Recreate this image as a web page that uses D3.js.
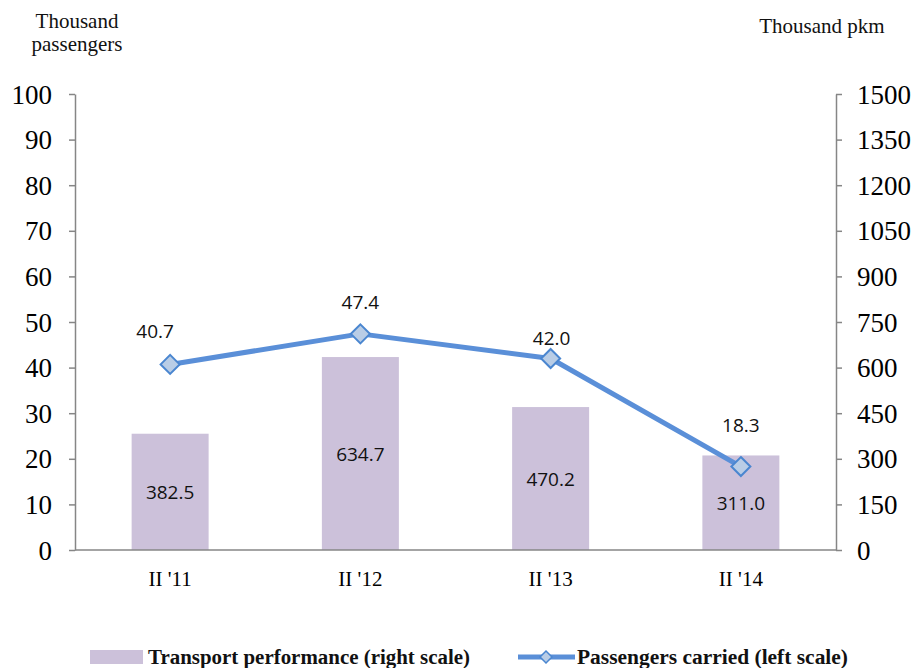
<!DOCTYPE html>
<html><head><meta charset="utf-8">
<script src="https://cdn.jsdelivr.net/npm/d3@7"></script>
<style>body{margin:0;background:#fff}svg{display:block}</style>
</head><body>
<svg id="chart" width="917" height="668"></svg>
<script>
const categories = ["II '11", "II '12", "II '13", "II '14"];
const transportPerformance = [382.5, 634.7, 470.2, 311.0];
const passengersCarried = [40.7, 47.4, 42.0, 18.3];
const leftTicks = [0,10,20,30,40,50,60,70,80,90,100];
const rightTicks = [0,150,300,450,600,750,900,1050,1200,1350,1500];

const svg = d3.select("#chart");
const M = {left:75, right:836, top:94, bottom:550};
const xc = d3.scaleBand().domain(categories).range([M.left, M.right]);
const yL = d3.scaleLinear().domain([0,100]).range([M.bottom, M.top]);
const yR = d3.scaleLinear().domain([0,1500]).range([M.bottom, M.top]);
const axisColor = "#868686";
const serif = "'Liberation Serif','Times New Roman',serif";
const sans = "'Open Sans','DejaVu Sans',sans-serif";
const px = (i)=> xc(categories[i]) + xc.bandwidth()/2;

// bars
svg.append("g").selectAll("rect").data(transportPerformance).join("rect")
  .attr("x", (d,i)=> px(i) - 38.5)
  .attr("width", 77)
  .attr("y", d=>yR(d)).attr("height", d=>M.bottom - yR(d))
  .attr("fill", "#ccc1da");

// axes
const gL = svg.append("g").attr("transform",`translate(${M.left},0)`)
  .call(d3.axisLeft(yL).tickValues(leftTicks).tickSize(6).tickPadding(17).tickSizeOuter(0).tickFormat(d3.format("d")));
const gR = svg.append("g").attr("transform",`translate(${M.right},0)`)
  .call(d3.axisRight(yR).tickValues(rightTicks).tickSize(6).tickPadding(15).tickSizeOuter(0).tickFormat(d3.format("d")));
const gX = svg.append("g").attr("transform",`translate(0,${M.bottom})`)
  .call(d3.axisBottom(xc).tickSize(0).tickPadding(21).tickSizeOuter(0));
[gL,gR,gX].forEach(g=>{
  g.selectAll("path,line").attr("stroke", axisColor).attr("stroke-width",1.5);
  g.selectAll("text").attr("fill","#000").style("font-family", serif);
});
gL.selectAll("text").style("font-size","27px").attr("dy","0.34em");
gR.selectAll("text").style("font-size","27px").attr("dy","0.34em");
gX.selectAll("text").style("font-size","21px").attr("dy","0.71em");
gX.select("path").attr("d", `M${M.left},0H${M.right}`);

// bar labels
svg.append("g").selectAll("text").data(transportPerformance).join("text")
  .attr("x",(d,i)=> px(i))
  .attr("y", d=> (yR(d)+M.bottom)/2 + 7)
  .attr("text-anchor","middle").style("font-family",sans).style("font-size","19px").attr("fill","#111")
  .text(d=>d.toFixed(1));

// line
const line = d3.line().x((d,i)=>px(i)).y(d=>yL(d));
svg.append("path").datum(passengersCarried).attr("d", line)
  .attr("fill","none").attr("stroke","#5a8fd8").attr("stroke-width",5).attr("stroke-linejoin","round");
const diamond = d3.symbol().type(d3.symbolDiamond2).size(230);
svg.append("g").selectAll("path").data(passengersCarried).join("path")
  .attr("transform",(d,i)=>`translate(${px(i)},${yL(d)})`)
  .attr("d", diamond).attr("fill","#b9cde6").attr("stroke","#4a86d0").attr("stroke-width",2);
// line labels
const lblOff = [[-15,-26],[0,-25],[1,-13],[0,-35]];
svg.append("g").selectAll("text").data(passengersCarried).join("text")
  .attr("x",(d,i)=>px(i)+lblOff[i][0]).attr("y",(d,i)=>yL(d)+lblOff[i][1])
  .attr("text-anchor","middle").style("font-family",sans).style("font-size","19px").attr("fill","#111")
  .text(d=>d.toFixed(1));

// axis titles
const tt = svg.append("g").style("font-family",serif).style("font-size","21px").attr("fill","#111");
tt.append("text").attr("x",77).attr("y",28).attr("text-anchor","middle").text("Thousand");
tt.append("text").attr("x",77).attr("y",51).attr("text-anchor","middle").text("passengers");
tt.append("text").attr("x",822).attr("y",33).attr("text-anchor","middle").text("Thousand pkm");

// legend
const lg = svg.append("g").style("font-family",serif).style("font-size","20px").style("font-weight","bold").attr("fill","#111");
lg.append("rect").attr("x",90).attr("y",650).attr("width",53).attr("height",14).attr("fill","#ccc1da");
lg.append("text").attr("x",148).attr("y",664).attr("textLength",322).attr("lengthAdjust","spacingAndGlyphs").text("Transport performance (right scale)");
lg.append("line").attr("x1",518).attr("x2",575).attr("y1",657).attr("y2",657).attr("stroke","#5a8fd8").attr("stroke-width",5);
lg.append("path").attr("transform","translate(546,657)").attr("d", d3.symbol().type(d3.symbolDiamond2).size(90)).attr("fill","#b9cde6").attr("stroke","#4a86d0").attr("stroke-width",1.5);
lg.append("text").attr("x",577).attr("y",664).attr("textLength",271).attr("lengthAdjust","spacingAndGlyphs").text("Passengers carried (left scale)");
</script>
</body></html>
